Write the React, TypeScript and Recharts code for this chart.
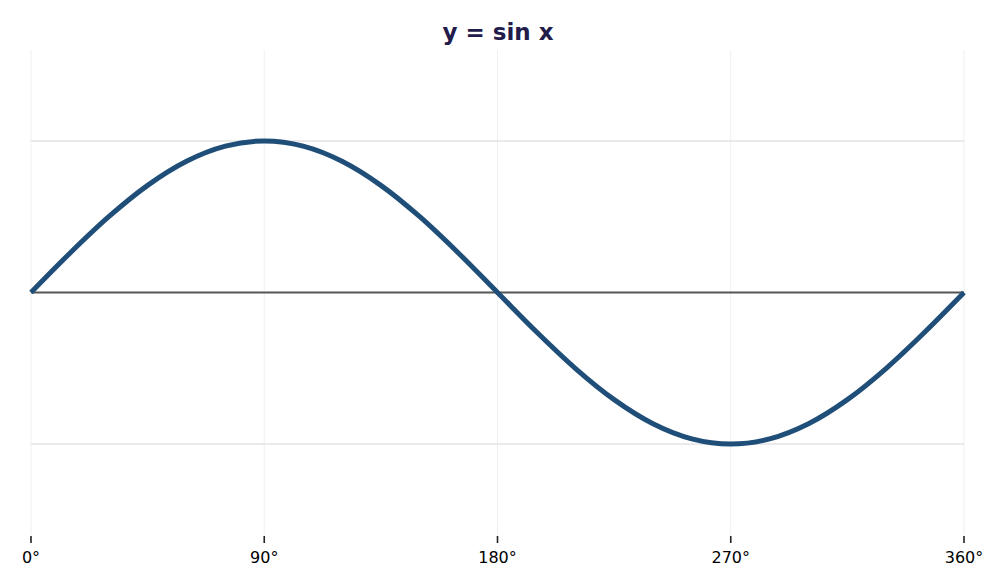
import { LineChart, Line, XAxis, YAxis, ReferenceLine } from "recharts";

const INK = "#221c4a";
const WAVE = "#1f4e79";
const GRID_H = "#e3e3e3";
const GRID_V = "#efefef";
const ZERO = "#555555";

const degrees = [
  0, 15, 30, 45, 60, 75, 90, 105, 120, 135, 150, 165, 180, 195, 210, 225, 240,
  255, 270, 285, 300, 315, 330, 345, 360,
];
const sinValues = [
  0, 0.259, 0.5, 0.707, 0.866, 0.966, 1, 0.966, 0.866, 0.707, 0.5, 0.259, 0,
  -0.259, -0.5, -0.707, -0.866, -0.966, -1, -0.966, -0.866, -0.707, -0.5,
  -0.259, 0,
];
const xTicks = [0, 90, 180, 270, 360];
const yGrid = [1, -1];

const data = degrees.map((d, i) => ({ deg: d, y: sinValues[i] }));

function DegreeTick(props: any) {
  const { x, payload } = props;
  return (
    <g>
      <line x1={x} x2={x} y1={536} y2={543} stroke="#222" strokeWidth={1.6} />
      <text x={x} y={563} textAnchor="middle" fill="#000" fontSize={16} fontFamily="DejaVu Sans">
        {`${payload.value}°`}
      </text>
    </g>
  );
}

export default function App() {
  return (
    <div style={{ position: "absolute", left: 0, top: 0, width: 1008, height: 588, fontFamily: "DejaVu Sans" }}>
      <div
        style={{
          position: "absolute",
          left: 0,
          width: 996,
          top: 18,
          textAlign: "center",
          fontWeight: "bold",
          fontSize: 23,
          lineHeight: "28px",
          color: INK,
        }}
      >
        y = sin x
      </div>
      <LineChart width={1008} height={588} data={data} margin={{ top: 50, right: 44, left: 31, bottom: 0 }}>
        <XAxis
          dataKey="deg"
          type="number"
          domain={[0, 360]}
          ticks={xTicks}
          axisLine={false}
          tickLine={false}
          height={53}
          tick={<DegreeTick />}
        />
        <YAxis hide domain={[-1.6, 1.6]} />
        {xTicks.map((x) => (
          <ReferenceLine key={`v${x}`} x={x} stroke={GRID_V} strokeWidth={1} />
        ))}
        {yGrid.map((y) => (
          <ReferenceLine key={`h${y}`} y={y} stroke={GRID_H} strokeWidth={1.5} />
        ))}
        <ReferenceLine y={0} stroke={ZERO} strokeWidth={1.8} />
        <Line
          type="monotone"
          dataKey="y"
          stroke={WAVE}
          strokeWidth={5}
          dot={false}
          isAnimationActive={false}
        />
      </LineChart>
    </div>
  );
}
